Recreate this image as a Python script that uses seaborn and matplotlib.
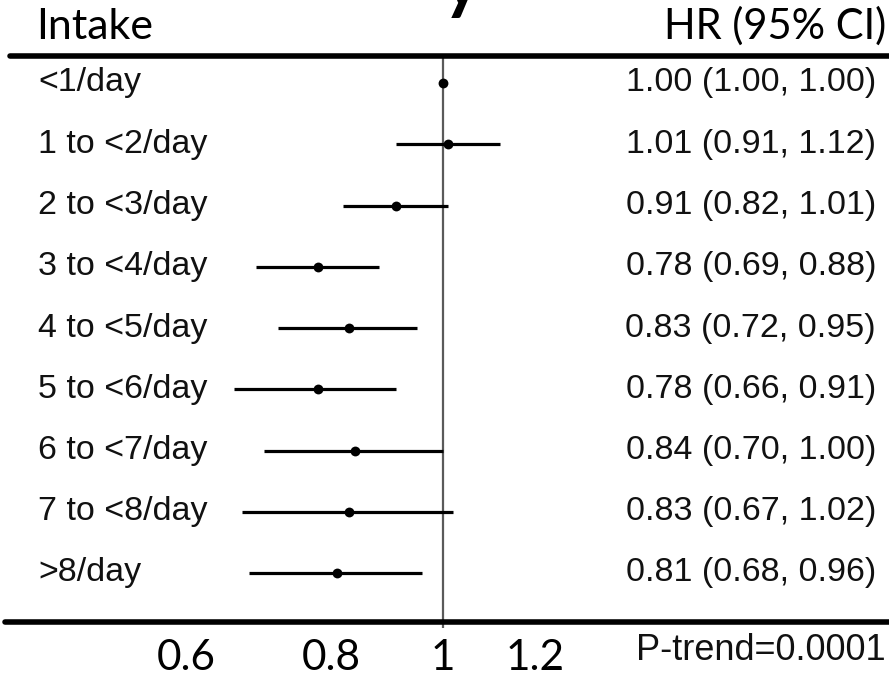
import numpy as np
import pandas as pd
import matplotlib
matplotlib.use("Agg")
import matplotlib.pyplot as plt
import matplotlib.transforms as mtransforms
import seaborn as sns

# Forest plot values
intake = ['<1/day', '1 to <2/day', '2 to <3/day', '3 to <4/day', '4 to <5/day',
          '5 to <6/day', '6 to <7/day', '7 to <8/day', '>8/day']
hr = [1.00, 1.01, 0.91, 0.78, 0.83, 0.78, 0.84, 0.83, 0.81]
ci_low = [1.00, 0.91, 0.82, 0.69, 0.72, 0.66, 0.70, 0.67, 0.68]
ci_high = [1.00, 1.12, 1.01, 0.88, 0.95, 0.91, 1.00, 1.02, 0.96]
tick_vals = [0.6, 0.8, 1, 1.2]
tick_labels = ['0.6', '0.8', '1', '1.2']
p_trend = 'P-trend=0.0001'

df = pd.DataFrame({'intake': intake, 'hr': hr, 'lo': ci_low, 'hi': ci_high})
df['row'] = np.arange(len(df))
df['label'] = [f'{h:.2f} ({l:.2f}, {u:.2f})' for h, l, u in zip(hr, ci_low, ci_high)]

sns.set_theme(style='white')
plt.rcParams['font.family'] = ['Liberation Sans', 'DejaVu Sans']

W, H = 889, 679
fig = plt.figure(figsize=(W / 100, H / 100), dpi=100)
ax = fig.add_axes([0, 0, 1, 1])
ax.set_xscale('log')

# pixel helpers: 1.0 sits at x=443, ~503 px per log unit; rows every 61.25 px
px_per_log = 503.0
x1 = 443.0
ax.set_xlim(np.exp(-x1 / px_per_log), np.exp((W - x1) / px_per_log))
row0, row_h = 83.0, 61.25
def ypx(p):
    return (p - row0) / row_h
ax.set_ylim(ypx(H), ypx(0))
ax.axis('off')

# confidence intervals and point estimates
ax.hlines(df['row'], df['lo'], df['hi'], color='black', lw=2.3, zorder=3)
sns.scatterplot(data=df, x='hr', y='row', color='black', s=50, ax=ax,
                zorder=4, edgecolor='black', linewidth=0)

# reference line at HR = 1
ax.vlines(1, ypx(58), ypx(628), color='#5a5a5a', lw=1.6, zorder=2)

# thick horizontal rules
ax.axhline(ypx(56), xmin=10 / W, xmax=1, color='black', lw=4, zorder=5)
ax.axhline(ypx(622), xmin=5 / W, xmax=1, color='black', lw=4, zorder=5)

blend = mtransforms.blended_transform_factory(ax.transAxes, ax.transData)
for _, r in df.iterrows():
    ax.text(38 / W, r['row'], r['intake'], transform=blend, ha='left', va='center',
            fontsize=24.5, color='#111111')
    ax.text(876 / W, r['row'], r['label'], transform=blend, ha='right', va='center',
            fontsize=24.5, color='#111111')

# headers
ax.text(36 / W, ypx(39), 'Intake', transform=blend, ha='left', va='baseline',
        fontsize=31, family=['Lato', 'DejaVu Sans'], color='black')
ax.text(886 / W, ypx(39), 'HR (95% CI)', transform=blend, ha='right', va='baseline',
        fontsize=30, family=['Lato', 'DejaVu Sans'], color='black')
# clipped tail of the title above the frame
ax.text(np.exp((462 - x1) / px_per_log), ypx(5), 'y', ha='center', va='baseline',
        fontsize=52, fontweight='bold', family=['Lato', 'DejaVu Sans'], color='black')

# x tick labels
for v, t in zip(tick_vals, tick_labels):
    ax.text(v, ypx(658), t, ha='center', va='center', fontsize=30.5,
            family=['Lato', 'DejaVu Sans'], color='black')
ax.text(886 / W, ypx(651), p_trend, transform=blend, ha='right', va='center',
        fontsize=26, color='#111111')

fig.savefig('out.png', dpi=100)
